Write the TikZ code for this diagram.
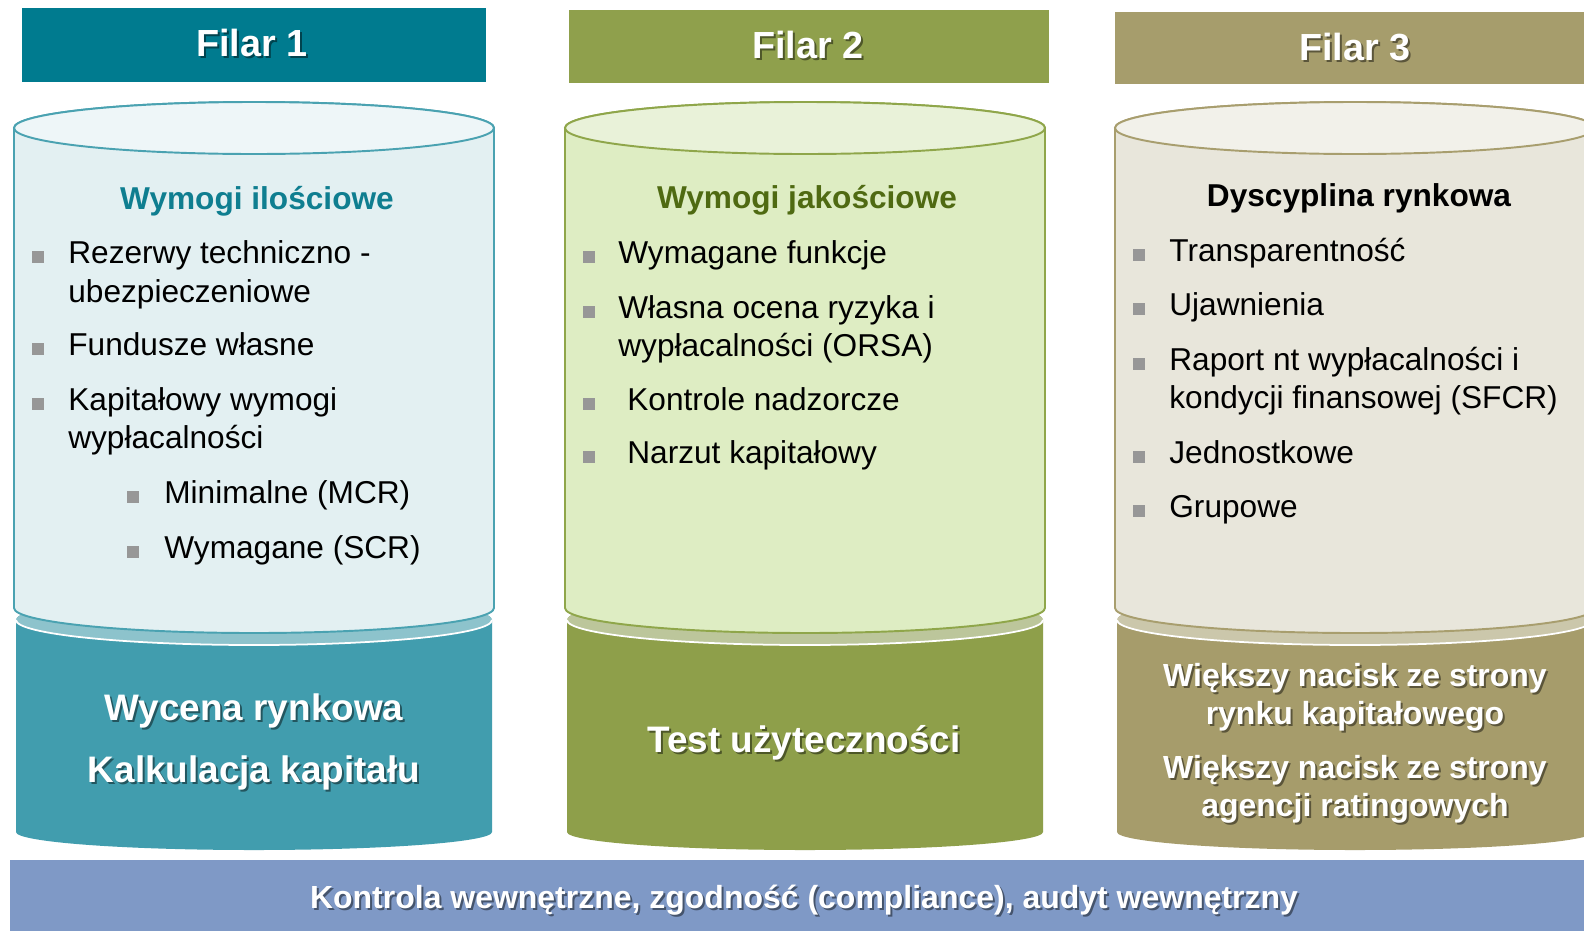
\documentclass[tikz,border=0pt]{standalone}
\usepackage{fontspec}
\setmainfont{Liberation Sans}
\usetikzlibrary{positioning}
\definecolor{tealBanner}{HTML}{007B8F}
\definecolor{tealBody}{HTML}{E3F0F2}
\definecolor{tealLid}{HTML}{EEF6F8}
\definecolor{tealLine}{HTML}{4AA2B1}
\definecolor{tealBase}{HTML}{419DAE}
\definecolor{tealBaseTop}{HTML}{8DC3CC}
\definecolor{tealHead}{HTML}{0F7E90}
\definecolor{greenBanner}{HTML}{8FA04C}
\definecolor{greenBody}{HTML}{DEEDC3}
\definecolor{greenLid}{HTML}{E9F2D9}
\definecolor{greenLine}{HTML}{8FA64A}
\definecolor{greenBase}{HTML}{8E9F4A}
\definecolor{greenBaseTop}{HTML}{BCC69B}
\definecolor{greenHead}{HTML}{4F6A12}
\definecolor{khakiBanner}{HTML}{A69D6C}
\definecolor{khakiBody}{HTML}{E8E6DB}
\definecolor{khakiLid}{HTML}{F2F1EA}
\definecolor{khakiLine}{HTML}{A89E6E}
\definecolor{khakiBase}{HTML}{A69C6B}
\definecolor{khakiBaseTop}{HTML}{CBC7AB}
\definecolor{barblue}{HTML}{7F99C6}
\definecolor{bulletgray}{HTML}{979797}
\tikzset{
  bannertext/.style={font=\fontsize{21.5}{24}\selectfont\bfseries, inner sep=0pt},
  basetext/.style={font=\fontsize{21}{24}\selectfont\bfseries, inner sep=0pt},
  smallbase/.style={font=\fontsize{18.2}{21.6}\selectfont\bfseries, align=center, inner sep=0pt},
  bartext/.style={font=\fontsize{18.2}{22}\selectfont\bfseries, inner sep=0pt},
  headtext/.style={font=\fontsize{18}{22}\selectfont\bfseries, inner sep=0pt},
  itemtext/.style={anchor=base west, font=\fontsize{18}{22}\selectfont, inner sep=0pt},
  bullet/.style={fill=bulletgray}
}
% white text with a soft drop shadow
\newcommand{\castlabel}[4]{%
  \node[#3, text=black, opacity=0.45] (#1-sh) at ([shift={(2,2)}]#2) {#4};
  \node[#3, text=white] (#1) at (#2) {#4};}
\begin{document}
\begin{tikzpicture}[x=0.02cm, y=-0.02cm]
  \useasboundingbox (0,0) rectangle (1584,930);
  \clip (0,0) rectangle (1584,930);
  \fill[white] (0,0) rectangle (1584,930);

  % pillars: base drum, then the can on top
  \foreach \cx/\tone in {254/teal, 805/green, 1355/khaki}{
    \fill[\tone Base] (\cx-238,620) -- (\cx-238,832)
      arc[start angle=180, end angle=0, x radius=238, y radius=18]
      -- (\cx+238,620) arc[start angle=0, end angle=-180, x radius=238, y radius=25] -- cycle;
    \fill[\tone BaseTop] (\cx,620) ellipse[x radius=238, y radius=25];
    \draw[white, line width=1pt] (\cx-238,620)
      arc[start angle=180, end angle=0, x radius=238, y radius=25];
    \filldraw[fill=\tone Body, draw=\tone Line, line width=1.1pt] (\cx-240,128) -- (\cx-240,608)
      arc[start angle=180, end angle=0, x radius=240, y radius=25]
      -- (\cx+240,128) arc[start angle=0, end angle=-180, x radius=240, y radius=26] -- cycle;
    \filldraw[fill=\tone Lid, draw=\tone Line, line width=1.1pt] (\cx,128) ellipse[x radius=240, y radius=26];
  }

  % banners
  \fill[tealBanner] (22,8) rectangle (486,82);
  \fill[greenBanner] (569,10) rectangle (1049,83);
  \fill[khakiBanner] (1115,12) rectangle (1590,84);
  \castlabel{fil1}{252,43}{bannertext}{Filar 1}
  \castlabel{fil2}{808,45}{bannertext}{Filar 2}
  \castlabel{fil3}{1355,47}{bannertext}{Filar 3}

  % headings
  \node[headtext, text=tealHead] (head1) at (257,201) {Wymogi ilościowe};
  \node[headtext, text=greenHead] (head2) at (807,200) {Wymogi jakościowe};
  \node[headtext, text=black] (head3) at (1359,198) {Dyscyplina rynkowa};

  % pillar 1 items
  \foreach \b/\t in {263/Rezerwy techniczno -, 355/Fundusze własne, 410/Kapitałowy wymogi}{
    \fill[bullet] (32,\b-12) rectangle (44,\b);
    \node[itemtext] (p1-\b) at (68,\b) {\t};
  }
  \node[itemtext] (p1-302) at (68,302) {ubezpieczeniowe};
  \node[itemtext] (p1-448) at (68,448) {wypłacalności};
  \foreach \b/\t in {503/Minimalne (MCR), 558/Wymagane (SCR)}{
    \fill[bullet] (127,\b-12) rectangle (139,\b);
    \node[itemtext] (p1-\b) at (164,\b) {\t};
  }

  % pillar 2 items
  \foreach \b/\x/\t in {263/618/Wymagane funkcje, 318/618/Własna ocena ryzyka i,
      410/627/Kontrole nadzorcze, 463/627/Narzut kapitałowy}{
    \fill[bullet] (583,\b-12) rectangle (595,\b);
    \node[itemtext] (p2-\b) at (\x,\b) {\t};
  }
  \node[itemtext] (p2-356) at (618,356) {wypłacalności (ORSA)};

  % pillar 3 items
  \foreach \b/\t in {261/Transparentność, 315/Ujawnienia, 370/Raport nt wypłacalności i,
      463/Jednostkowe, 517/Grupowe}{
    \fill[bullet] (1133,\b-12) rectangle (1145,\b);
    \node[itemtext] (p3-\b) at (1169,\b) {\t};
  }
  \node[itemtext] (p3-408) at (1169,408) {kondycji finansowej (SFCR)};

  % base labels
  \castlabel{base1a}{254,711}{basetext}{Wycena rynkowa}
  \castlabel{base1b}{254,773}{basetext}{Kalkulacja kapitału}
  \castlabel{base2}{804,743}{basetext}{Test użyteczności}
  \castlabel{base3a}{1355,697}{smallbase}{Większy nacisk ze strony\\rynku kapitałowego}
  \castlabel{base3b}{1355,789}{smallbase}{Większy nacisk ze strony\\agencji ratingowych}

  % bottom bar
  \fill[barblue] (10,860) rectangle (1590,935);
  \castlabel{bar}{804,900}{bartext}{Kontrola wewnętrzne, zgodność (compliance), audyt wewnętrzny}
\end{tikzpicture}
\end{document}
